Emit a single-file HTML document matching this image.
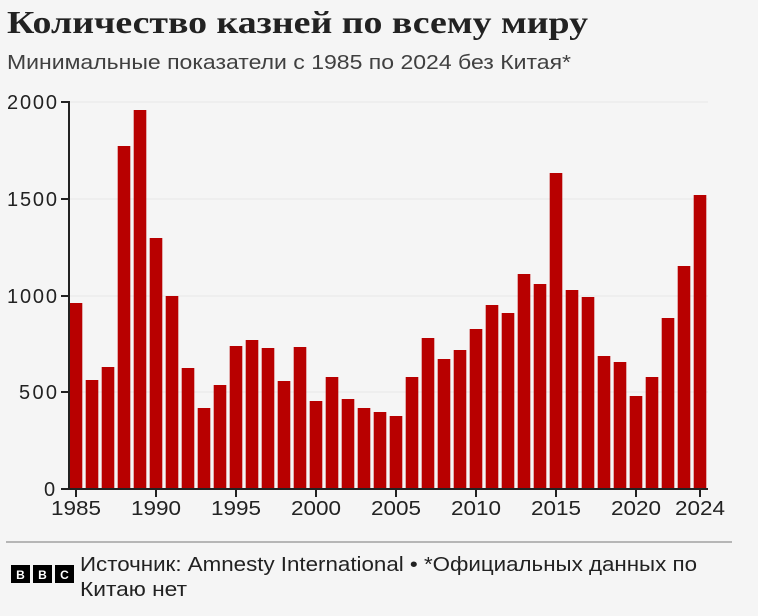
<!DOCTYPE html>
<html><head><meta charset="utf-8"><style>
body{margin:0;background:#f5f5f5;width:758px;height:611px;overflow:hidden;font-family:"Liberation Sans",sans-serif}
</style></head><body>
<svg width="758" height="611" xmlns="http://www.w3.org/2000/svg">
<text x="7" y="33" font-family="Liberation Serif, serif" font-weight="bold" font-size="32" fill="#222" textLength="581" lengthAdjust="spacingAndGlyphs">Количество казней по всему миру</text>
<text x="7" y="69" font-size="20" fill="#404040" textLength="564" lengthAdjust="spacingAndGlyphs">Минимальные показатели с 1985 по 2024 без Китая*</text>
<g stroke="#e6e6e6" stroke-width="1">
<line x1="69" x2="708" y1="102" y2="102"/><line x1="69" x2="708" y1="199" y2="199"/><line x1="69" x2="708" y1="296" y2="296"/><line x1="69" x2="708" y1="392" y2="392"/>
</g>
<g fill="#b80000" id="bars"></g>
<g stroke="#222" stroke-width="2">
<line x1="69" y1="101" x2="69" y2="490"/>
<line x1="61" x2="69" y1="102" y2="102"/><line x1="61" x2="69" y1="199" y2="199"/><line x1="61" x2="69" y1="296" y2="296"/><line x1="61" x2="69" y1="392" y2="392"/><line x1="61" x2="69" y1="489" y2="489"/>
</g>
<g font-size="20" fill="#222" lengthAdjust="spacingAndGlyphs">
<text x="7" y="109" textLength="50">2000</text><text x="7" y="206" textLength="50">1500</text><text x="7" y="303" textLength="50">1000</text><text x="19" y="399" textLength="38">500</text><text x="44" y="496" textLength="12">0</text>
</g>
<g id="xt" stroke="#222" stroke-width="2"></g>
<g id="xl" font-size="20" fill="#222"></g>
<line x1="6" x2="732" y1="542" y2="542" stroke="#777" stroke-width="1"/>
<g font-family="Liberation Sans, sans-serif" font-weight="bold" font-size="12" fill="#fff" text-anchor="middle">
<rect x="11" y="565" width="19" height="18" fill="#000"/><text x="20.5" y="579">B</text>
<rect x="33" y="565" width="19" height="18" fill="#000"/><text x="42.5" y="579">B</text>
<rect x="55" y="565" width="19" height="18" fill="#000"/><text x="64.5" y="579">C</text>
</g>
<text x="80" y="571" font-size="20" fill="#222" textLength="617" lengthAdjust="spacingAndGlyphs">Источник: Amnesty International • *Официальных данных по</text>
<text x="80" y="596" font-size="20" fill="#222" textLength="107" lengthAdjust="spacingAndGlyphs">Китаю нет</text>
</svg>
<script>
var tops=[303,380,367,146,110,238,296,368,408,385,346,340,348,381,347,401,377,399,408,412,416,377,338,359,350,329,305,313,274,284,173,290,297,356,362,396,377,318,266,195];
var ns="http://www.w3.org/2000/svg",g=document.getElementById("bars");
tops.forEach(function(t,i){var r=document.createElementNS(ns,"rect");var c=76+i*16;r.setAttribute("x",c-6.3);r.setAttribute("width",12.6);r.setAttribute("y",t);r.setAttribute("height",489-t);g.appendChild(r);});
var xt=document.getElementById("xt"),xl=document.getElementById("xl");
[1985,1990,1995,2000,2005,2010,2015,2020,2024].forEach(function(y){var c=76+(y-1985)*16;var l=document.createElementNS(ns,"line");l.setAttribute("x1",c);l.setAttribute("x2",c);l.setAttribute("y1",489);l.setAttribute("y2",497);xt.appendChild(l);var t=document.createElementNS(ns,"text");t.setAttribute("x",c-25);t.setAttribute("y",515);t.setAttribute("textLength",50);t.setAttribute("lengthAdjust","spacingAndGlyphs");t.textContent=y;xl.appendChild(t);});
var a=document.createElementNS(ns,"line");a.setAttribute("x1",69);a.setAttribute("x2",708);a.setAttribute("y1",489);a.setAttribute("y2",489);xt.appendChild(a);
</script>
</body></html>
